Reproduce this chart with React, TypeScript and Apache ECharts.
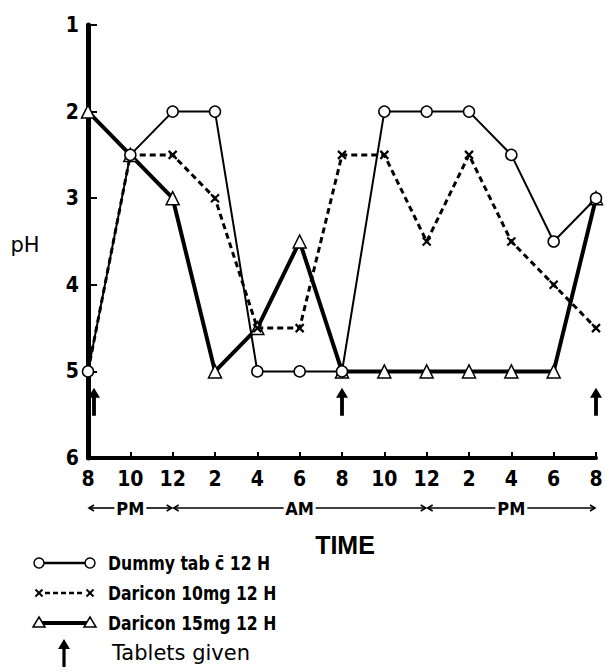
import React, { useEffect, useRef } from "react";
import * as echarts from "echarts";

const timeLabels = ["8", "10", "12", "2", "4", "6", "8", "10", "12", "2", "4", "6", "8"];
const dummyPH = [5, 2.5, 2, 2, 5, 5, 5, 2, 2, 2, 2.5, 3.5, 3];
const daricon10PH = [5, 2.5, 2.5, 3, 4.5, 4.5, 2.5, 2.5, 3.5, 2.5, 3.5, 4, 4.5];
const daricon15PH = [2, 2.5, 3, 5, 4.5, 3.5, 5, 5, 5, 5, 5, 5, 3];
const tabletIdx = [0, 6, 12];
const tabletLevel = 5.35;
const periodLabels = ["PM", "AM", "PM"];
const periodBounds = [0, 2, 8, 12];
const legendLabels = ["Dummy tab c\u0304 12 H", "Daricon 10mg 12 H", "Daricon 15mg 12 H", "Tablets given"];

const NARROW = "'DejaVu Sans Condensed', 'Liberation Sans Narrow', sans-serif";
const XPATH = "path://M0,0 L10,10 M10,0 L0,10";
const ARROW = "path://M5,0 L10,10 L6.6,10 L6.6,28 L3.4,28 L3.4,10 L0,10 Z";

export default function App() {
  const ref = useRef<HTMLDivElement>(null);
  useEffect(() => {
    const el = ref.current;
    if (!el) return;
    const chart = echarts.init(el, null, { renderer: "svg" });
    const toPairs = (arr: number[]) => arr.map((v, i) => [i, v]);
    chart.setOption({
      animation: false,
      backgroundColor: "#fff",
      grid: { left: 88, right: 11, top: 25, bottom: 214, outerBoundsMode: "none" },
      xAxis: {
        type: "value",
        min: 0,
        max: 12,
        interval: 1,
        axisLine: { onZero: false, lineStyle: { color: "#000", width: 4 } },
        axisTick: { inside: true, length: 6, lineStyle: { color: "#000", width: 2 } },
        splitLine: { show: false },
        axisLabel: {
          formatter: (v: number) => timeLabels[v] ?? "",
          color: "#000",
          fontFamily: NARROW,
          fontWeight: "bold",
          fontSize: 21,
          margin: 10,
        },
      },
      yAxis: {
        type: "value",
        inverse: true,
        min: 1,
        max: 6,
        interval: 1,
        axisLine: { show: true, lineStyle: { color: "#000", width: 5 } },
        axisTick: { show: true, inside: true, length: 9, lineStyle: { color: "#000", width: 2 } },
        splitLine: { show: false },
        axisLabel: {
          color: "#000",
          fontFamily: NARROW,
          fontWeight: "bold",
          fontSize: 21,
          margin: 9,
        },
      },
      series: [
        {
          name: "Daricon 15mg 12 H",
          type: "line",
          data: toPairs(daricon15PH),
          symbol: "triangle",
          symbolSize: 13,
          showAllSymbol: true,
          lineStyle: { color: "#000", width: 4 },
          itemStyle: { color: "#fff", borderColor: "#000", borderWidth: 1.5 },
          z: 3,
        },
        {
          name: "Daricon 10mg 12 H",
          type: "line",
          data: toPairs(daricon10PH),
          symbol: XPATH,
          symbolSize: 8,
          showAllSymbol: true,
          lineStyle: { color: "#000", width: 3, type: [6, 4] },
          itemStyle: { color: "#000", borderColor: "#000", borderWidth: 2.2 },
          z: 4,
        },
        {
          name: "Dummy tab c\u0304 12 H",
          type: "line",
          data: toPairs(dummyPH),
          symbol: "circle",
          symbolSize: 11,
          showAllSymbol: true,
          lineStyle: { color: "#000", width: 2 },
          itemStyle: { color: "#fff", borderColor: "#000", borderWidth: 1.5 },
          z: 5,
        },
        {
          name: "Tablets given",
          type: "scatter",
          data: tabletIdx.map((i, k) => ({
            value: [i, tabletLevel],
            symbolOffset: k === 0 ? [6, 0] : [0, 0],
          })),
          symbol: ARROW,
          symbolSize: [12, 28],
          itemStyle: { color: "#000", opacity: 1 },
          z: 6,
        },
      ],
    });

    const px = (i: number) => chart.convertToPixel({ xAxisIndex: 0 }, i) as number;
    const graphics: any[] = [];
    const ly = 508;
    const stroke = { stroke: "#000", lineWidth: 1.6 };
    periodLabels.forEach((lab, k) => {
      const x0 = px(periodBounds[k]);
      const x1 = px(periodBounds[k + 1]);
      const mid = (x0 + x1) / 2;
      graphics.push(
        { type: "line", shape: { x1: x0 + 1, y1: ly, x2: mid - 16, y2: ly }, style: stroke },
        { type: "line", shape: { x1: mid + 16, y1: ly, x2: x1 - 1, y2: ly }, style: stroke },
        { type: "polyline", shape: { points: [[x0 + 6, ly - 3], [x0 + 1, ly], [x0 + 6, ly + 3]] }, style: { ...stroke, fill: null } },
        { type: "polyline", shape: { points: [[x1 - 6, ly - 3], [x1 - 1, ly], [x1 - 6, ly + 3]] }, style: { ...stroke, fill: null } },
        {
          type: "text",
          x: mid,
          y: ly,
          style: { text: lab, fill: "#000", font: `bold 18px ${NARROW}`, align: "center", verticalAlign: "middle" },
        }
      );
    });
    graphics.push(
      {
        type: "text",
        x: 345,
        y: 545,
        style: { text: "TIME", fill: "#000", font: "bold 25px 'Liberation Sans', sans-serif", align: "center", verticalAlign: "middle" },
      },
      {
        type: "text",
        x: 25,
        y: 245,
        style: { text: "pH", fill: "#000", font: "21px 'DejaVu Sans', sans-serif", align: "center", verticalAlign: "middle" },
      }
    );
    // legend
    const rows = [563, 593, 623, 653];
    const sx0 = 39;
    const sx1 = 90;
    graphics.push(
      { type: "line", shape: { x1: sx0, y1: rows[0], x2: sx1, y2: rows[0] }, style: { stroke: "#000", lineWidth: 2.5 } },
      { type: "circle", shape: { cx: sx0, cy: rows[0], r: 5 }, style: { fill: "#fff", stroke: "#000", lineWidth: 1.5 } },
      { type: "circle", shape: { cx: sx1, cy: rows[0], r: 5 }, style: { fill: "#fff", stroke: "#000", lineWidth: 1.5 } }
    );
    graphics.push({
      type: "line",
      shape: { x1: sx0 + 6, y1: rows[1], x2: sx1 - 6, y2: rows[1] },
      style: { stroke: "#000", lineWidth: 2.5, lineDash: [5, 3] },
    });
    [sx0, sx1].forEach((cx) => {
      graphics.push(
        { type: "line", shape: { x1: cx - 3.5, y1: rows[1] - 3.5, x2: cx + 3.5, y2: rows[1] + 3.5 }, style: { stroke: "#000", lineWidth: 2 } },
        { type: "line", shape: { x1: cx - 3.5, y1: rows[1] + 3.5, x2: cx + 3.5, y2: rows[1] - 3.5 }, style: { stroke: "#000", lineWidth: 2 } }
      );
    });
    graphics.push({ type: "line", shape: { x1: sx0, y1: rows[2], x2: sx1, y2: rows[2] }, style: { stroke: "#000", lineWidth: 4 } });
    [sx0, sx1].forEach((cx) => {
      graphics.push({
        type: "polygon",
        shape: { points: [[cx, rows[2] - 6], [cx + 6, rows[2] + 4], [cx - 6, rows[2] + 4]] },
        style: { fill: "#fff", stroke: "#000", lineWidth: 1.5 },
      });
    });
    const ax = 64;
    graphics.push({
      type: "polygon",
      shape: {
        points: [[ax, rows[3] - 14], [ax + 6, rows[3] - 4], [ax + 1.6, rows[3] - 4], [ax + 1.6, rows[3] + 14], [ax - 1.6, rows[3] + 14], [ax - 1.6, rows[3] - 4], [ax - 6, rows[3] - 4]],
      },
      style: { fill: "#000" },
    });
    legendLabels.forEach((t, k) => {
      graphics.push({
        type: "text",
        x: k === 3 ? 112 : 108,
        y: rows[k],
        scaleX: k === 3 ? 1 : 0.87,
        style: {
          text: t,
          fill: "#000",
          font: k === 3 ? "21px 'DejaVu Sans', sans-serif" : `bold 20px ${NARROW}`,
          verticalAlign: "middle",
        },
      });
    });
    chart.setOption({ graphic: graphics });
    return () => chart.dispose();
  }, []);
  return (
    <div
      ref={ref}
      style={{ position: "fixed", left: 0, top: 0, width: 607, height: 672, background: "#fff" }}
    />
  );
}
